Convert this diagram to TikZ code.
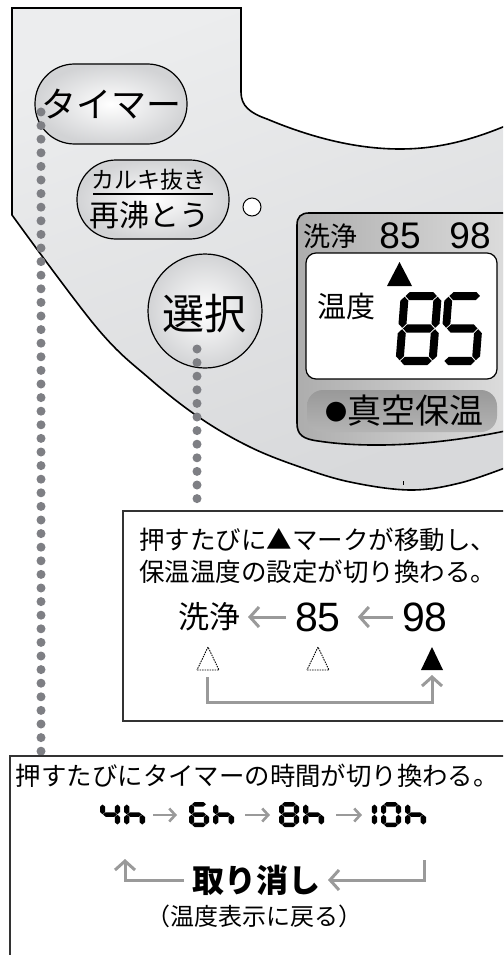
\documentclass[tikz,border=0pt]{standalone}
\usepackage{fontspec}
\newfontfamily\jp{Noto Sans CJK JP}
\newfontfamily\lat{Liberation Sans}
\usetikzlibrary{arrows.meta}
\definecolor{panelD}{HTML}{D8D9DB}
\definecolor{panelL}{HTML}{ECEDEE}
\definecolor{dotc}{HTML}{7E7F84}
\definecolor{arrc}{HTML}{9A9A9A}
\definecolor{dispL}{HTML}{ADADAD}
\definecolor{dispR}{HTML}{DDDDDD}
\definecolor{pillT}{HTML}{999999}
\definecolor{pillB}{HTML}{B4B4B4}
\definecolor{btnO}{HTML}{D2D3D5}
\definecolor{boxc}{HTML}{333333}
\newcommand\fsz[1]{\fontsize{#1}{#1}\selectfont}
\def\tx{0.2}\def\ty{0.2}\def\gp{0.02}\def\segsl{0}
\newcommand\SSh[1]{\fill ({\tx/2+\gp},{#1}) -- ({\tx+\gp},{#1+\ty/2}) -- ({1-\tx-\gp},{#1+\ty/2}) -- ({1-\tx/2-\gp},{#1}) -- ({1-\tx-\gp},{#1-\ty/2}) -- ({\tx+\gp},{#1-\ty/2}) -- cycle;}
\newcommand\SSv[3]{\fill ({#1},{#2-\gp}) -- ({#1+\tx/2},{#2-\ty/2-\gp}) -- ({#1+\tx/2},{#3+\ty/2+\gp}) -- ({#1},{#3+\gp}) -- ({#1-\tx/2},{#3+\ty/2+\gp}) -- ({#1-\tx/2},{#2-\ty/2-\gp}) -- cycle;}
\def\SSa{\SSh{-\ty/2}}
\def\SSg{\SSh{-1}}
\def\SSd{\SSh{-2+\ty/2}}
\def\SSf{\SSv{\tx/2}{-\ty/2}{-1}}
\def\SSb{\SSv{1-\tx/2}{-\ty/2}{-1}}
\def\SSe{\SSv{\tx/2}{-1}{-2+\ty/2}}
\def\SSc{\SSv{1-\tx/2}{-1}{-2+\ty/2}}
\newcommand\segdigit[5]{\begin{scope}[shift={(#1,-#2)},xscale=#3,yscale=#4/2,xslant=\segsl]\foreach \s in {#5}{\csname SS\s\endcsname}\end{scope}}
\begin{document}
\begin{tikzpicture}[x=1pt,y=1pt,
  txt/.style={inner sep=0pt,outer sep=0pt,font=\jp},
  btn/.style={draw=black,line width=1.2pt,inner color=white,outer color=btnO},
  dots/.style={draw=dotc,line width=9pt,line cap=round,dash pattern=on 0pt off 13.6pt},
  garrow/.style={draw=arrc,line width=3pt,-{Straight Barb[length=9pt,width=20pt]}},
  sarrow/.style={draw=arrc,line width=2.6pt,-{Straight Barb[length=6pt,width=13pt]}},
  boxline/.style={draw=boxc,line width=1.1pt}]
\useasboundingbox (0,0) rectangle (503,-955);
\clip (0,0) rectangle (503,-955);
% panel
\path[draw=black,line width=1.6pt,top color=panelL,bottom color=panelD,shading angle=20]
  (12,-8) -- (241,-8) -- (241,-92) .. controls (241,-106) and (250,-113) .. (267,-119)
  .. controls (310,-137) and (355,-149) .. (400,-149) .. controls (440,-149) and (475,-139) .. (510,-124)
  -- plot[smooth,tension=0.6] coordinates {(510,-466) (460,-483) (410,-490) (350,-482) (300,-467) (250,-447) (200,-418) (150,-379) (97,-328) (12,-215)} -- cycle;
% buttons
\node[btn,minimum width=152pt,minimum height=80pt,rounded corners=39.5pt] (timer) at (111,-104) {};
\node[txt,font=\jp\fsz{35}] (timerT) at (111,-104) {タイマー};
\node[btn,minimum width=152pt,minimum height=79pt,rounded corners=39pt] (calc) at (153,-199.5) {};
\node[txt,font=\jp\fsz{23}] (calcT) at (149,-180) {カルキ抜き};
\node[txt,font=\jp\fsz{30}] (boilT) at (149,-215) {再沸とう};
\draw[line width=1.4pt] (93,-194) -- (213,-194);
\node[circle,draw,fill=white,line width=1pt,minimum size=18pt,inner sep=0pt] (lamp) at (252,-207) {};
\node[btn,circle,minimum size=114pt,inner sep=0pt] (sel) at (205,-311) {};
\node[txt,font=\jp\fsz{42}] (selT) at (204,-314) {選択};
% display
\path[draw=black,line width=1.6pt,left color=dispL,right color=dispR]
  (510,-213) -- (309,-213) .. controls (301,-213) and (297,-217) .. (297,-225) -- (297,-423)
  .. controls (297,-435) and (303,-439) .. (318,-441) .. controls (370,-449) and (440,-445) .. (510,-430) -- cycle;
\node[txt,font=\jp\fsz{27}] (hWash) at (330,-236) {洗浄};
\node[txt,font=\lat\fsz{37}] (h85) at (400,-236) {85};
\node[txt,font=\lat\fsz{37}] (h98) at (470,-236) {98};
\draw[line width=1.2pt,fill=white,rounded corners=10pt] (306,-253) rectangle (497,-379);
\fill (387,-286) -- (412,-286) -- (399.5,-262) -- cycle;
\node[txt,font=\jp\fsz{29}] (ondo) at (346,-307) {温度};
\def\tx{0.195}\def\ty{0.22}\def\segsl{0.07}
\segdigit{401}{292}{41}{73}{a,b,c,d,e,f,g}
\segdigit{445}{292}{40}{73}{a,f,g,c,d}
\def\segsl{0}
\path[top color=pillT,bottom color=pillB,rounded corners=16pt] (307,-390) rectangle (497,-432);
\node[txt,font=\jp\fsz{22},anchor=center] (dotmark) at (336,-412) {●};
\node[txt,font=\jp\fsz{34},anchor=west] (shinku) at (347,-411) {真空保温};
\draw[line width=0.8pt] (403,-481) -- (403,-485);
% dotted leaders
\coordinate (td1) at (41,-112); \coordinate (td2) at (41,-752);
\draw[dots] (td1) -- (td2);
\coordinate (sd1) at (197,-349); \coordinate (sd2) at (197,-502);
\draw[dots] (sd1) -- (sd2);
% box 1
\draw[boxline] (123,-511) rectangle (515,-721);
\node[txt,font=\jp\fsz{25.5},anchor=west] (b1l1) at (139,-540) {押すたびに▲マークが移動し、};
\node[txt,font=\jp\fsz{25.5},anchor=west] (b1l2) at (139,-572) {保温温度の設定が切り換わる。};
\node[txt,font=\jp\fsz{31}] (wash) at (209,-617) {洗浄};
\node[txt,font=\lat\fsz{41}] (n85) at (318,-617) {85};
\node[txt,font=\lat\fsz{41}] (n98) at (425,-617) {98};
\draw[garrow] ([xshift=-9pt]n85.west) -- ([xshift=8pt]wash.east);
\draw[garrow] ([xshift=-9pt]n98.west) -- ([xshift=17pt]n85.east);
\draw[dash pattern=on 1.5pt off 1pt,line width=0.9pt] (197,-670) -- (219,-670) -- (208,-647) -- cycle;
\draw[dash pattern=on 1.5pt off 1pt,line width=0.9pt] (307,-670) -- (329,-670) -- (318,-647) -- cycle;
\fill (421,-670) -- (443,-670) -- (432,-647) -- cycle;
\coordinate (rb1) at (207,-677); \coordinate (rb2) at (432,-675);
\draw[garrow] (rb1) -- ++(0,-25) -| (rb2);
% box 2
\draw[boxline] (10,-960) -- (10,-756) -- (515,-756);
\node[txt,font=\jp\fsz{25.4},anchor=west] (b2l1) at (16,-776) {押すたびにタイマーの時間が切り換わる。};
\def\tx{0.26}\def\ty{0.36}
\segdigit{100}{802}{20}{25}{f,g,b,c}
\segdigit{124}{802}{21}{25}{f,e,g,c}
\coordinate (sa1) at (153,-815); \coordinate (sa2) at (177,-815);
\draw[sarrow] (sa1) -- (sa2);
\segdigit{189}{802}{20}{25}{a,f,g,e,d,c}
\segdigit{213}{802}{21}{25}{f,e,g,c}
\coordinate (sb1) at (245,-815); \coordinate (sb2) at (270,-815);
\draw[sarrow] (sb1) -- (sb2);
\segdigit{279}{802}{20}{25}{a,b,c,d,e,f,g}
\segdigit{303}{802}{21}{25}{f,e,g,c}
\coordinate (sc1) at (336,-815); \coordinate (sc2) at (362,-815);
\draw[sarrow] (sc1) -- (sc2);
\segdigit{357}{802}{20}{25}{b,c}
\segdigit{381}{802}{20}{25}{a,b,c,d,e,f}
\segdigit{405}{802}{21}{25}{f,e,g,c}
\node[txt,font=\jp\bfseries\fsz{32}] (cancel) at (256,-880) {取り消し};
\coordinate (lr) at (125,-859); \coordinate (rr) at (424,-860);
\draw[garrow] ([xshift=-8pt]cancel.west) -| (lr);
\draw[garrow] (rr) |- ([xshift=8pt]cancel.east);
\node[txt,font=\jp\fsz{24}] (back) at (254,-916) {（温度表示に戻る）};
\end{tikzpicture}
\end{document}
